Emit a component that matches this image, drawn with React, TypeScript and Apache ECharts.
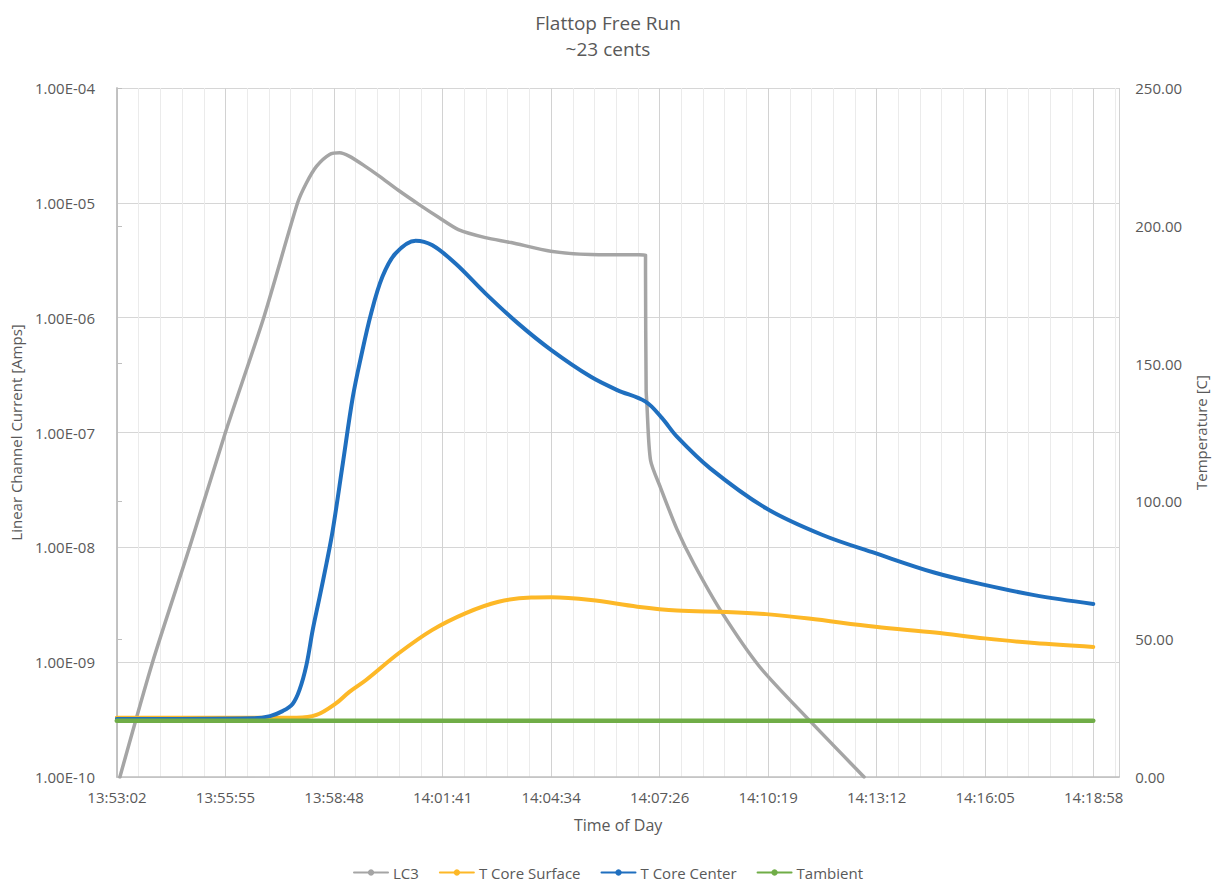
import React, { useEffect, useRef } from "react";
import * as echarts from "echarts";

// ---- axis definition (time of day) ----
const AXIS_START = "13:53:02.4"; // left edge of the time axis
const MAJOR_STEP_SEC = 172.8; // 0.002 day
const MINOR_STEP_SEC = 34.56; // 0.0004 day
const AXIS_SPAN_SEC = 1596;

const titleText = "Flattop Free Run";
const subtitleText = "~23 cents";

// ---- LC3 : linear channel current [A] (left, log axis) ----
const lc3Times = [
  "13:53:07", "13:53:59", "13:54:58", "13:55:55", "13:56:56", "13:57:50",
  "13:58:04", "13:58:20", "13:58:41", "13:58:57", "13:59:12", "13:59:36",
  "14:00:00", "14:00:31", "14:01:03", "14:01:35", "14:02:06", "14:02:49",
  "14:03:30", "14:04:33", "14:05:37", "14:07:04", "14:07:04", "14:07:05",
  "14:07:06", "14:07:12", "14:07:28", "14:07:54", "14:08:21", "14:09:05",
  "14:10:06", "14:11:25", "14:12:52",
];
const lc3Values = [
  1.0e-10, 1.0e-9, 1.0e-8, 1.0e-7, 1.0e-6, 1.0e-5,
  1.49e-5, 2.08e-5, 2.64e-5, 2.73e-5, 2.55e-5, 2.11e-5,
  1.71e-5, 1.28e-5, 9.7e-6, 7.45e-6, 5.85e-6, 4.98e-6,
  4.51e-6, 3.79e-6, 3.54e-6, 3.51e-6, 2.59e-6, 2.31e-7,
  1.85e-7, 5.73e-8, 3.3e-8, 1.44e-8, 7.2e-9, 2.74e-9,
  9.08e-10, 3.11e-10, 1.0e-10,
];

// ---- T Core Surface [C] (right axis) ----
const surfaceTimes = [
  "13:53:02", "13:57:48", "13:58:20", "13:58:51", "13:59:12", "13:59:39",
  "14:00:31", "14:01:24", "14:02:17", "14:03:10", "14:04:02", "14:04:34",
  "14:05:37", "14:06:51", "14:07:54", "14:09:13", "14:10:16", "14:11:24",
  "14:13:10", "14:14:45", "14:16:04", "14:17:23", "14:18:57",
];
const surfaceValues = [
  21.5, 21.5, 22.5, 26.7, 30.8, 35.2,
  44.9, 53.3, 59.4, 63.6, 65.1, 65.2,
  64.2, 61.8, 60.4, 59.9, 59.1, 57.5,
  54.5, 52.4, 50.3, 48.6, 47.2,
];

// ---- T Core Center [C] (right axis) ----
const centerTimes = [
  "13:53:02", "13:56:39", "13:57:06", "13:57:26", "13:57:42", "13:57:53",
  "13:58:04", "13:58:14", "13:58:25", "13:58:36", "13:58:46", "13:59:02",
  "13:59:18", "13:59:31", "13:59:47", "14:00:05", "14:00:26", "14:00:58",
  "14:01:24", "14:02:01", "14:02:49", "14:03:41", "14:04:34", "14:05:37",
  "14:06:19", "14:07:04", "14:07:30", "14:07:54", "14:08:47", "14:10:16",
  "14:11:46", "14:13:10", "14:14:45", "14:16:04", "14:17:23", "14:18:57",
];
const centerValues = [
  21.0, 21.3, 22.1, 23.9, 26.5, 31.6,
  40.6, 53.3, 65.3, 77.5, 89.6, 113.8,
  138.0, 152.5, 168.2, 181.5, 190.0, 194.6,
  193.0, 186.4, 175.5, 164.6, 154.9, 145.2,
  140.4, 136.2, 130.3, 123.5, 112.0, 97.5,
  87.8, 81.2, 74.1, 69.7, 66.0, 62.8,
];

// ---- Tambient [C] (right axis) ----
const ambientTimes = ["13:53:02", "13:59:30", "14:06:00", "14:12:30", "14:18:57"];
const ambientValues = [20.4, 20.4, 20.4, 20.4, 20.4];

const seriesNames = ["LC3", "T Core Surface", "T Core Center", "Tambient"];
const seriesColors = ["#a5a5a5", "#fdb827", "#1f6fbf", "#70ad47"];

function toSec(t: string): number {
  const [h, m, s] = t.split(":");
  return Number(h) * 3600 + Number(m) * 60 + Number(s);
}
const T0 = toSec(AXIS_START);

function pairs(times: string[], values: number[]): number[][] {
  return times.map((t, i) => [toSec(t) - T0, values[i]]);
}

function fmtTime(v: number): string {
  const total = Math.round(T0 + v);
  const h = Math.floor(total / 3600);
  const m = Math.floor((total % 3600) / 60);
  const s = total % 60;
  const p = (n: number) => String(n).padStart(2, "0");
  return `${p(h)}:${p(m)}:${p(s)}`;
}

function fmtSci(v: number): string {
  if (v <= 0) return "";
  const e = Math.floor(Math.log10(v) + 1e-9);
  const mant = v / Math.pow(10, e);
  const sign = e < 0 ? "-" : "+";
  return `${mant.toFixed(2)}E${sign}${String(Math.abs(e)).padStart(2, "0")}`;
}

const FONT = "'Open Sans', 'Noto Sans', sans-serif";
const TXT = "#595959";

export default function App() {
  const ref = useRef<HTMLDivElement>(null);
  useEffect(() => {
    document.body.style.margin = "0";
    document.body.style.overflow = "hidden";
    if (!ref.current) return;
    const chart = echarts.init(ref.current, undefined, { renderer: "svg" });
    const lineSeries = (
      idx: number,
      data: number[][],
      yIndex: number,
      width: number,
      smooth: number
    ) => ({
      name: seriesNames[idx],
      type: "line",
      xAxisIndex: 1,
      yAxisIndex: yIndex,
      data,
      symbol: "circle",
      symbolSize: 5,
      showSymbol: false,
      smooth,
      lineStyle: { color: seriesColors[idx], width, cap: "round", join: "round" },
      itemStyle: { color: seriesColors[idx] },
      emphasis: { disabled: true },
    });
    chart.setOption({
      animation: false,
      backgroundColor: "#ffffff",
      textStyle: { fontFamily: FONT },
      title: {
        text: titleText,
        subtext: subtitleText,
        left: "center",
        top: 8,
        itemGap: 7,
        textStyle: { fontFamily: FONT, fontSize: 19, fontWeight: "normal", color: TXT },
        subtextStyle: { fontFamily: FONT, fontSize: 19, color: TXT },
      },
      legend: {
        data: seriesNames,
        left: "center",
        top: 863,
        padding: [2, 5, 2, 5],
        itemWidth: 34,
        itemHeight: 8,
        itemGap: 20,
        textStyle: { fontFamily: FONT, fontSize: 15, color: TXT },
      },
      grid: { left: 116, right: 91, top: 88, bottom: 105, containLabel: false },
      xAxis: [
        {
          type: "value",
          min: 0,
          max: AXIS_SPAN_SEC,
          interval: MINOR_STEP_SEC,
          position: "bottom",
          axisLine: { show: false },
          axisTick: { show: false },
          axisLabel: { show: false },
          splitLine: { show: true, lineStyle: { color: "#ebebeb", width: 1 } },
        },
        {
          type: "value",
          min: 0,
          max: AXIS_SPAN_SEC,
          interval: MAJOR_STEP_SEC,
          position: "bottom",
          name: "Time of Day",
          nameLocation: "middle",
          nameGap: 40,
          nameTextStyle: { fontFamily: FONT, fontSize: 16, color: TXT },
          axisLine: { show: true, lineStyle: { color: "#bfbfbf", width: 1.5 } },
          axisTick: { show: false },
          axisLabel: {
            color: TXT,
            fontFamily: FONT,
            fontSize: 15,
            margin: 12,
            showMaxLabel: false,
            formatter: (v: number) => {
              const k = v / MAJOR_STEP_SEC;
              if (Math.abs(k - Math.round(k)) > 1e-6) return "";
              return fmtTime(v);
            },
          },
          splitLine: { show: true, lineStyle: { color: "#d2d2d2", width: 1 } },
        },
      ],
      yAxis: [
        {
          type: "log",
          logBase: 10,
          min: 1e-10,
          max: 1e-4,
          position: "left",
          name: "Linear Channel Current [Amps]",
          nameLocation: "middle",
          nameRotate: 90,
          nameGap: 94,
          nameTextStyle: { fontFamily: FONT, fontSize: 15, color: TXT },
          axisLine: { show: true, lineStyle: { color: "#bfbfbf", width: 1.5 } },
          axisTick: { show: false },
          axisLabel: { color: TXT, fontFamily: FONT, fontSize: 15, margin: 22, formatter: fmtSci },
          splitLine: { show: true, lineStyle: { color: "#d6d6d6", width: 1 } },
        },
        {
          type: "value",
          min: 0,
          max: 250,
          interval: 50,
          position: "right",
          name: "Temperature [C]",
          nameLocation: "middle",
          nameRotate: 90,
          nameGap: 73,
          nameTextStyle: { fontFamily: FONT, fontSize: 15, color: TXT },
          axisLine: { show: true, lineStyle: { color: "#bfbfbf", width: 1.5 } },
          axisTick: { show: true, inside: false, length: 5, lineStyle: { color: "#bfbfbf" } },
          axisLabel: {
            color: TXT,
            fontFamily: FONT,
            fontSize: 15,
            margin: 16,
            formatter: (v: number) => v.toFixed(2),
          },
          splitLine: { show: false },
        },
      ],
      series: [
        lineSeries(0, pairs(lc3Times, lc3Values), 0, 3.5, 0.25),
        lineSeries(1, pairs(surfaceTimes, surfaceValues), 1, 4, 0.35),
        lineSeries(2, pairs(centerTimes, centerValues), 1, 4, 0.35),
        lineSeries(3, pairs(ambientTimes, ambientValues), 1, 4.5, 0),
      ],
    });
    return () => chart.dispose();
  }, []);
  return <div ref={ref} style={{ width: 1216, height: 882 }} />;
}
